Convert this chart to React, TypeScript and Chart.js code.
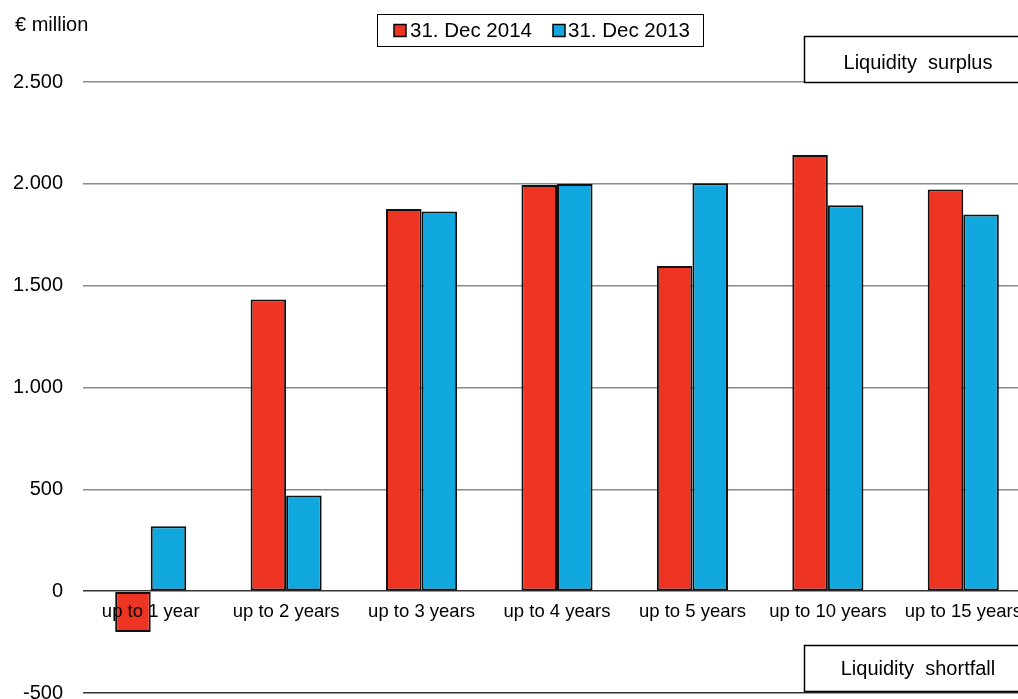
import React, { useEffect, useRef } from "react";
import { Chart, registerables } from "chart.js";

Chart.register(...registerables);

const categories = [
  "up to 1 year",
  "up to 2 years",
  "up to 3 years",
  "up to 4 years",
  "up to 5 years",
  "up to 10 years",
  "up to 15 years",
];
const series2014 = [-200, 1432, 1876, 1994, 1596, 2141, 1972];
const series2013 = [319, 470, 1864, 1999, 2003, 1895, 1850];
const seriesLabels = ["31. Dec 2014", "31. Dec 2013"];
const yTicks = [-500, 0, 500, 1000, 1500, 2000, 2500];
const unitLabel = "€ million";
const surplusLabel = "Liquidity  surplus";
const shortfallLabel = "Liquidity  shortfall";

const RED = "#EE3524";
const BLUE = "#10A8DF";
const FONT = "'Liberation Sans', Arial, sans-serif";

const fmt = (v: number) =>
  v.toString().replace(/\B(?=(\d{3})+(?!\d))/g, ".");

const overlay = {
  id: "overlay",
  afterDatasetsDraw(chart: any) {
    const ctx = chart.ctx as CanvasRenderingContext2D;
    const xs = chart.scales.x;
    const ys = chart.scales.y;
    ctx.save();
    // category labels at zero line
    ctx.fillStyle = "#000";
    ctx.font = `18.5px ${FONT}`;
    ctx.textAlign = "center";
    ctx.textBaseline = "middle";
    const y0 = ys.getPixelForValue(0);
    chart.data.labels.forEach((l: string, i: number) => {
      ctx.fillText(l, xs.getPixelForValue(i), y0 + 21);
    });
    // unit label
    ctx.textAlign = "left";
    ctx.font = `20px ${FONT}`;
    ctx.fillText(unitLabel, 15, 25);
    // annotation boxes
    const boxes = [
      { y: 36, h: 46, text: surplusLabel, ty: 63 },
      { y: 645, h: 46, text: shortfallLabel, ty: 669 },
    ];
    boxes.forEach((b) => {
      ctx.fillStyle = "#fff";
      ctx.fillRect(804, b.y, 400, b.h);
      ctx.strokeStyle = "#000";
      ctx.lineWidth = 1.5;
      ctx.strokeRect(804.5, b.y + 0.5, 400, b.h);
      ctx.fillStyle = "#000";
      ctx.textAlign = "center";
      ctx.font = `20px ${FONT}`;
      ctx.fillText(b.text, 918, b.ty);
    });
    // legend
    ctx.lineWidth = 1;
    ctx.strokeStyle = "#000";
    ctx.fillStyle = "#fff";
    ctx.fillRect(377.5, 14.5, 326, 32);
    ctx.strokeRect(377.5, 14.5, 326, 32);
    const items = [
      { mx: 394, tx: 410 },
      { mx: 553, tx: 568 },
    ];
    chart.data.datasets.forEach((ds: any, i: number) => {
      const it = items[i];
      ctx.fillStyle = ds.backgroundColor;
      ctx.fillRect(it.mx, 24.5, 12, 12);
      ctx.lineWidth = 1.5;
      ctx.strokeRect(it.mx, 24.5, 12, 12);
      ctx.fillStyle = "#000";
      ctx.textAlign = "left";
      ctx.font = `20.5px ${FONT}`;
      ctx.fillText(ds.label, it.tx, 31);
    });
    ctx.restore();
  },
};

export default function App() {
  const ref = useRef<HTMLCanvasElement>(null);
  useEffect(() => {
    if (!ref.current) return;
    const chart = new Chart(ref.current, {
      type: "bar",
      data: {
        labels: categories,
        datasets: [
          {
            label: seriesLabels[0],
            data: series2014,
            backgroundColor: RED,
            borderColor: "#111",
            borderWidth: 2,
            borderSkipped: false,
            categoryPercentage: 0.525,
            barPercentage: 1,
          },
          {
            label: seriesLabels[1],
            data: series2013,
            backgroundColor: BLUE,
            borderColor: "#111",
            borderWidth: 2,
            borderSkipped: false,
            categoryPercentage: 0.525,
            barPercentage: 1,
          },
        ],
      },
      options: {
        animation: false,
        responsive: false,
        maintainAspectRatio: false,
        devicePixelRatio: 1,
        layout: { autoPadding: false, padding: { left: 0, right: 0, top: 82, bottom: 7 } },
        plugins: { legend: { display: false }, tooltip: { enabled: false } },
        scales: {
          x: { display: false },
          y: {
            min: yTicks[0],
            max: yTicks[yTicks.length - 1],
            afterFit: (s: any) => {
              s.width = 83;
            },
            afterBuildTicks: (s: any) => {
              s.ticks = yTicks.map((v) => ({ value: v }));
            },
            border: { display: false },
            grid: {
              drawTicks: false,
              color: (c: any) =>
                c.tick && (c.tick.value === 0 || c.tick.value === -500) ? "#333" : "#8a8a8a",
              lineWidth: 1.5,
            },
            ticks: {
              padding: 20,
              color: "#000",
              font: { family: FONT, size: 20 },
              callback: (v: any) => fmt(Number(v)),
            },
          },
        },
      },
      plugins: [overlay],
    });
    return () => chart.destroy();
  }, []);
  return (
    <div
      style={{
        position: "fixed",
        left: 0,
        top: 0,
        width: 1018,
        height: 699,
        overflow: "hidden",
        background: "#fff",
      }}
    >
      <canvas ref={ref} width={1031} height={725} style={{ display: "block", width: 1031, height: 725 }} />
    </div>
  );
}
